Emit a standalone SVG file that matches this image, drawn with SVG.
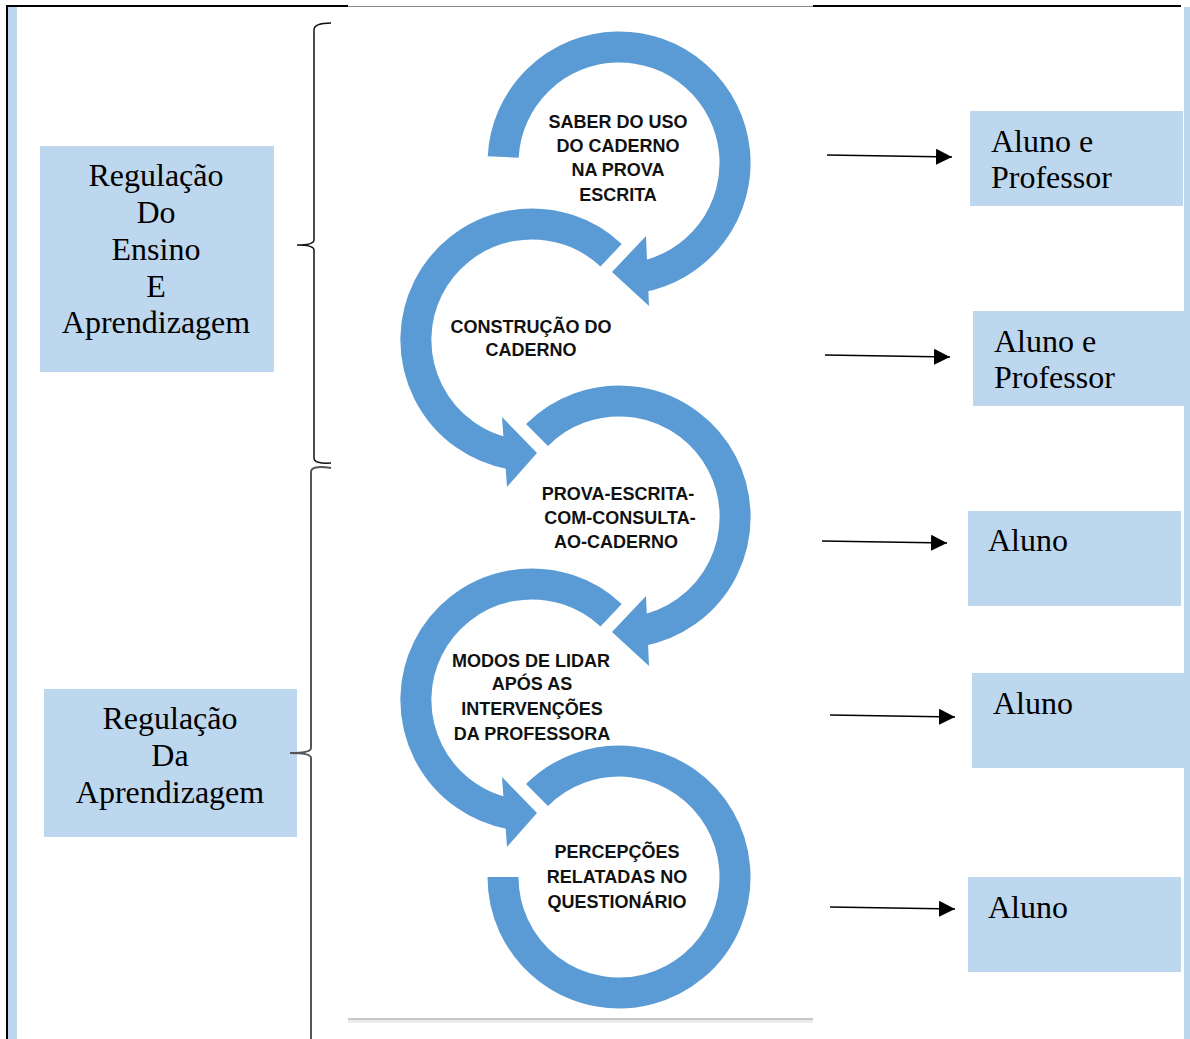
<svg xmlns="http://www.w3.org/2000/svg" width="1190" height="1039" viewBox="0 0 1190 1039">
<style>
.box{fill:#BDD7EE}
.serif{font-family:"Liberation Serif","Times New Roman",serif;font-size:32px;fill:#000}
.ring{fill:none;stroke:#5B9BD5;stroke-width:31}
.head{fill:#5B9BD5}
.lbl{font-family:"Liberation Sans",Arial,sans-serif;font-weight:bold;font-size:18px;fill:#111;text-anchor:middle}
.arr{stroke:#000;stroke-width:1.5;fill:none;marker-end:url(#ah)}
</style>
<defs>
<marker id="ah" markerUnits="userSpaceOnUse" markerWidth="16" markerHeight="16" refX="16" refY="8" orient="auto">
<path d="M0,0 L16,8 L0,16 z" fill="#000"/>
</marker>
</defs>
<rect width="1190" height="1039" fill="#fff"/>
<g id="frame">
<rect x="6" y="5" width="2" height="1034" fill="#000"/>
<rect x="8" y="7" width="9" height="1032" fill="#BDD7EE"/>
<rect x="6" y="5" width="342" height="2" fill="#000"/>
<rect x="348" y="6" width="465" height="1" fill="#888"/>
<rect x="813" y="5" width="368" height="2" fill="#000"/>
<rect x="1184" y="7" width="6" height="1032" fill="#BDD7EE"/>
<rect x="348" y="1018" width="465" height="2" fill="#c8c8c8"/>
<rect x="348" y="1020" width="465" height="3" fill="#ececec"/>
</g>
<g id="left1">
<rect class="box" x="40" y="146" width="234" height="226"/>
<text class="serif" text-anchor="middle"><tspan x="156" y="186">Regulação</tspan><tspan x="156" y="223">Do</tspan><tspan x="156" y="260">Ensino</tspan><tspan x="156" y="297">E</tspan><tspan x="156" y="333">Aprendizagem</tspan></text>
</g>
<g id="left2">
<rect class="box" x="44" y="689" width="253" height="148"/>
<text class="serif" text-anchor="middle"><tspan x="170" y="729">Regulação</tspan><tspan x="170" y="766">Da</tspan><tspan x="170" y="803">Aprendizagem</tspan></text>
</g>
<g id="ring1">
<path class="ring" d="M503.2,157 A116,116 0 1 1 639.1,277.2"/>
<polygon class="head" points="646,236 649,306 612,272"/>
<text class="lbl"><tspan x="618" y="128">SABER DO USO</tspan><tspan x="618" y="152">DO CADERNO</tspan><tspan x="618" y="176">NA PROVA</tspan><tspan x="618" y="201">ESCRITA</tspan></text>
</g>
<g id="ring2">
<path class="ring" d="M611.1,255.2 A116,116 0 1 0 511.9,454.2"/>
<polygon class="head" points="502,417 507,487 537,453"/>
<text class="lbl"><tspan x="531" y="333">CONSTRUÇÃO DO</tspan><tspan x="531" y="356">CADERNO</tspan></text>
</g>
<g id="ring3">
<path class="ring" d="M537,435 A116,116 0 1 1 639.1,631.2"/>
<polygon class="head" points="646,596 649,666 612,632"/>
<text class="lbl"><tspan x="618" y="500">PROVA-ESCRITA-</tspan><tspan x="620" y="524">COM-CONSULTA-</tspan><tspan x="616" y="548">AO-CADERNO</tspan></text>
</g>
<g id="ring4">
<path class="ring" d="M611.1,615.2 A116,116 0 1 0 511.9,814.2"/>
<polygon class="head" points="502,777 507,847 537,813"/>
<text class="lbl"><tspan x="531" y="667">MODOS DE LIDAR</tspan><tspan x="532" y="690">APÓS AS</tspan><tspan x="532" y="715">INTERVENÇÕES</tspan><tspan x="532" y="740">DA PROFESSORA</tspan></text>
</g>
<g id="ring5">
<path class="ring" d="M537,795 A116,116 0 1 1 503,877"/>
<text class="lbl"><tspan x="617" y="858">PERCEPÇÕES</tspan><tspan x="617" y="883">RELATADAS NO</tspan><tspan x="617" y="908">QUESTIONÁRIO</tspan></text>
</g>
<g id="right1">
<rect class="box" x="970" y="111" width="213" height="95"/>
<text class="serif"><tspan x="991" y="152">Aluno e</tspan><tspan x="991" y="188">Professor</tspan></text>
</g>
<g id="right2">
<rect class="box" x="973" y="311" width="213" height="95"/>
<text class="serif"><tspan x="994" y="352">Aluno e</tspan><tspan x="994" y="388">Professor</tspan></text>
</g>
<g id="right3">
<rect class="box" x="968" y="511" width="213" height="95"/>
<text class="serif" x="988" y="551">Aluno</text>
</g>
<g id="right4">
<rect class="box" x="972" y="673" width="214" height="95"/>
<text class="serif" x="993" y="714">Aluno</text>
</g>
<g id="right5">
<rect class="box" x="968" y="877" width="213" height="95"/>
<text class="serif" x="988" y="918">Aluno</text>
</g>
<g id="connectors">
<path d="M331,23 Q314,23 314,30 L314,240 Q314,245 297,245 Q314,245 314,250 L314,458 Q314,464 331,463" fill="none" stroke="#111" stroke-width="1.5"/>
<path d="M331,468 Q311,465 311,472 L311,748 Q311,753 290,753 Q311,753 311,758 L311,1039" fill="none" stroke="#555" stroke-width="2"/>
<line class="arr" x1="827" y1="155" x2="952" y2="157"/>
<line class="arr" x1="825" y1="355" x2="950" y2="357"/>
<line class="arr" x1="822" y1="541" x2="947" y2="543"/>
<line class="arr" x1="830" y1="715" x2="955" y2="717"/>
<line class="arr" x1="830" y1="907" x2="955" y2="909"/>
</g>
</svg>
